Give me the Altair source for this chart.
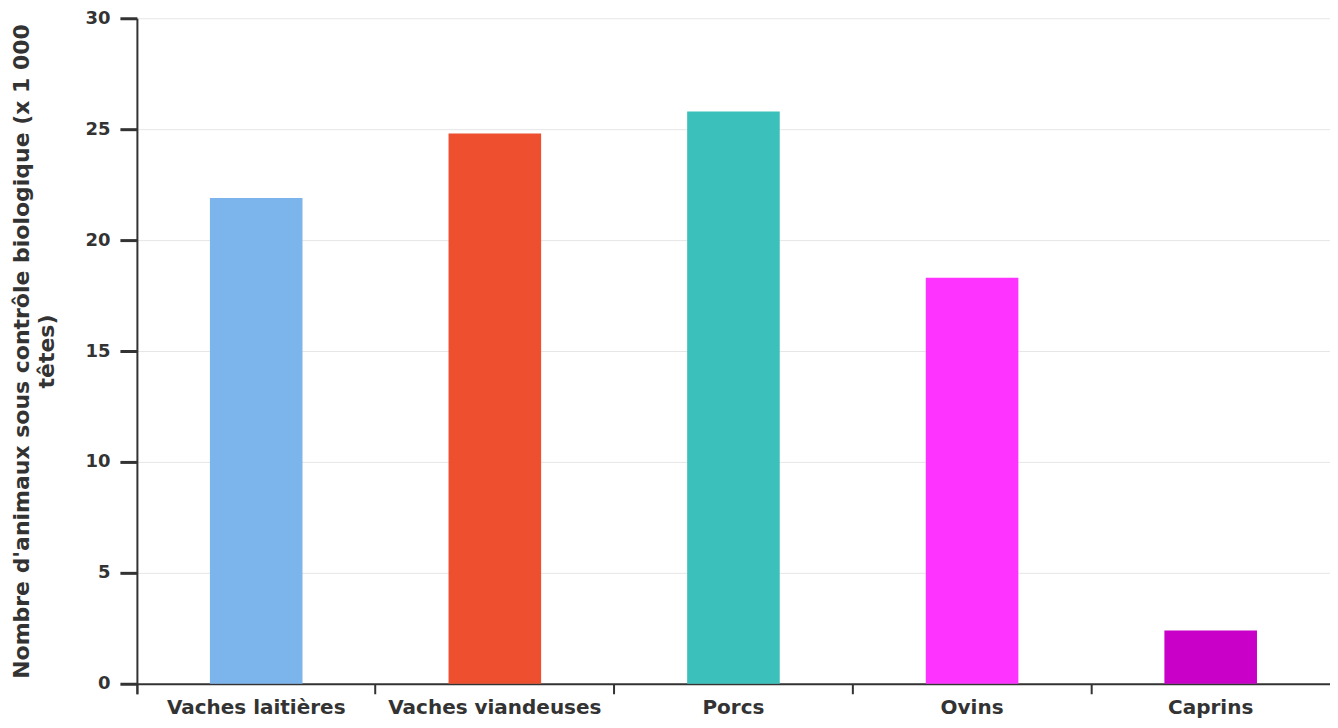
import altair as alt
import pandas as pd

categories = ["Vaches laitières", "Vaches viandeuses", "Porcs", "Ovins", "Caprins"]
values = [21.9, 24.8, 25.8, 18.3, 2.4]
colors = ["#7cb5ec", "#ed4f2f", "#3bc0bb", "#ff33ff", "#c800c8"]

df = pd.DataFrame({"cat": categories, "val": values, "col": colors})

font = "DejaVu Sans"
axis_color = "#333333"

chart = alt.Chart(df).mark_bar(width=alt.RelativeBandSize(0.388)).encode(
    x=alt.X("cat:N", sort=categories, title=None,
            scale=alt.Scale(paddingInner=0, paddingOuter=0),
            axis=alt.Axis(labelAngle=0, bandPosition=0, tickExtra=True, tickSize=10, tickWidth=2,
                          tickColor=axis_color, domainColor=axis_color, domainWidth=2,
                          labelFont=font, labelFontWeight="bold", labelFontSize=20,
                          labelColor=axis_color, labelPadding=4, labelLimit=400, grid=False)),
    y=alt.Y("val:Q", scale=alt.Scale(domain=[0, 30], nice=False),
            title=["Nombre d'animaux sous contrôle biologique (x 1 000", "têtes)"],
            axis=alt.Axis(values=[0, 5, 10, 15, 20, 25, 30], tickSize=17, tickWidth=3,
                          tickColor=axis_color, domainColor=axis_color, domainWidth=2,
                          labelFont=font, labelFontWeight="bold", labelFontSize=18,
                          labelColor=axis_color, labelPadding=10,
                          titleFont=font, titleFontWeight="bold", titleFontSize=22,
                          titleColor=axis_color, titlePadding=26, titleLineHeight=25,
                          gridColor="#e6e6e6", gridWidth=1)),
    color=alt.Color("col:N", scale=None, legend=None),
).properties(
    width=1194, height=666,
    autosize=alt.AutoSizeParams(type="none"),
    padding={"left": 129, "top": 10, "right": 0, "bottom": 35},
).configure_view(stroke=None)

chart.save("out.html", embed_options={"renderer": "svg", "actions": False})
